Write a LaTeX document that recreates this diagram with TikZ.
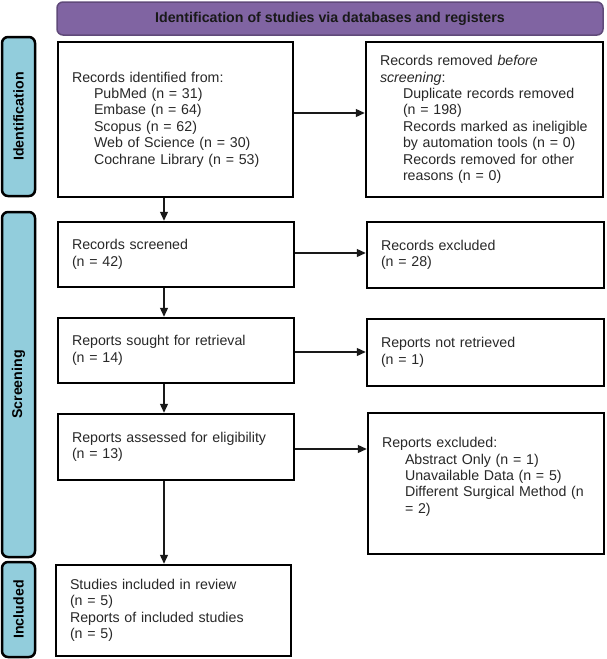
\documentclass[tikz,border=0pt]{standalone}
\usepackage{fontspec}
\setmainfont{Liberation Sans}
\usetikzlibrary{arrows.meta}
\definecolor{hdrfill}{RGB}{128,100,162}
\definecolor{hdrline}{RGB}{96,74,122}
\definecolor{sidefill}{RGB}{146,205,220}
\definecolor{txt}{RGB}{40,40,40}
\begin{document}
\begin{tikzpicture}[x=1pt,y=-1pt,
  every node/.style={font=\fontsize{14.2}{16.4}\selectfont, text=txt},
  box/.style={draw=black, line width=2.5pt, inner xsep=14pt, inner ysep=0pt, align=left, fill=white},
  side/.style={draw=black, line width=2.5pt, fill=sidefill, rounded corners=6pt, rotate=90,
    minimum height=33pt, inner sep=0pt, font=\bfseries\fontsize{14.2}{16.4}\selectfont, text=black},
  hdr/.style={draw=hdrline, line width=1.5pt, fill=hdrfill, rounded corners=6pt,
    minimum width=546pt, minimum height=33pt, inner sep=0pt, font=\bfseries\fontsize{14.2}{16.4}\selectfont, text=black!90},
  arr/.style={draw=black!90, line width=1.3pt, -{Triangle[length=9pt,width=8pt]}}
]
\useasboundingbox (0,0) rectangle (606,659);

\node[hdr] (hdr) at (330,18.5) {Identification of studies via databases and registers};

\node[side, minimum width=159pt] (sident) at (18.5,116.5) {Identification};
\node[side, minimum width=345pt] (sscreen) at (18.5,384.5) {Screening};
\node[side, minimum width=95pt] (sincl) at (18.5,609.5) {Included};

\node[box, text width=207pt, minimum height=155pt] (ident) at (175.5,119.5)
  {Records identified from:\\
   \hspace*{22pt}PubMed (n = 31)\\
   \hspace*{22pt}Embase (n = 64)\\
   \hspace*{22pt}Scopus (n = 62)\\
   \hspace*{22pt}Web of Science (n = 30)\\
   \hspace*{22pt}Cochrane Library (n = 53)};

\node[box, text width=209pt, minimum height=155pt] (removed) at (484.5,119.5)
  {Records removed \emph{before}\\
   \emph{screening}:\\
   \hspace*{23pt}Duplicate records removed\\
   \hspace*{23pt}(n = 198)\\
   \hspace*{23pt}Records marked as ineligible\\
   \hspace*{23pt}by automation tools (n = 0)\\
   \hspace*{23pt}Records removed for other\\
   \hspace*{23pt}reasons (n = 0)};

\node[box, text width=208pt, minimum height=65pt] (screened) at (176,254.5)
  {Records screened\\(n = 42)};
\node[box, text width=209pt, minimum height=66pt] (excluded) at (485.5,255)
  {Records excluded\\(n = 28)};

\node[box, text width=208pt, minimum height=65pt] (sought) at (176,350.5)
  {Reports sought for retrieval\\(n = 14)};
\node[box, text width=209pt, minimum height=67pt] (notretr) at (485.5,352.5)
  {Reports not retrieved\\(n = 1)};

\node[box, text width=208pt, minimum height=66pt] (assessed) at (176,447)
  {Reports assessed for eligibility\\(n = 13)};
\node[box, text width=208pt, minimum height=141pt] (rexcl) at (486,483.5)
  {Reports excluded:\\
   \hspace*{23pt}Abstract Only (n = 1)\\
   \hspace*{23pt}Unavailable Data (n = 5)\\
   \hspace*{23pt}Different Surgical Method (n\\
   \hspace*{23pt}= 2)\\
   \mbox{}};

\node[box, text width=207pt, minimum height=91pt] (included) at (173.5,610.5)
  {Studies included in review\\(n = 5)\\Reports of included studies\\(n = 5)};

\coordinate (ax) at (164,0);
\coordinate (y1) at (0,113);
\coordinate (y2) at (0,253);
\coordinate (y3) at (0,352);
\coordinate (y4) at (0,449);

\draw[arr] (ident.south -| ax) -- (screened.north -| ax);
\draw[arr] (screened.south -| ax) -- (sought.north -| ax);
\draw[arr] (sought.south -| ax) -- (assessed.north -| ax);
\draw[arr] (assessed.south -| ax) -- (included.north -| ax);

\draw[arr] (ident.east |- y1) -- (removed.west |- y1);
\draw[arr] (screened.east |- y2) -- (excluded.west |- y2);
\draw[arr] (sought.east |- y3) -- (notretr.west |- y3);
\draw[arr] (assessed.east |- y4) -- (rexcl.west |- y4);
\end{tikzpicture}
\end{document}
